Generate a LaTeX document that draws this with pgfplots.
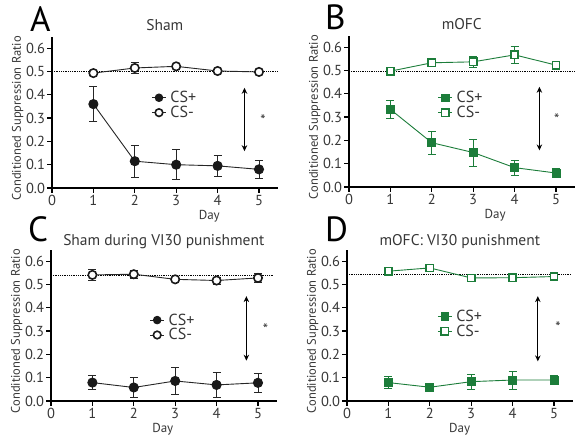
\documentclass[border=0pt]{standalone}
\usepackage{fontspec}
\setmainfont{PT Sans}
\usepackage{pgfplots}
\pgfplotsset{compat=1.18}
\usetikzlibrary{arrows.meta}
\definecolor{grn}{RGB}{28,125,58}
\definecolor{txt}{RGB}{55,55,55}

\pgfplotsset{
 panel/.style={
  scale only axis, width=225.6pt, height=151.5pt,
  xmin=0, xmax=5.45, ymin=0, ymax=0.65,
  axis lines=left, axis line style={-, line width=1.2pt, black},
  xtick={0,1,2,3,4,5}, ytick={0,0.1,0.2,0.3,0.4,0.5,0.6},
  tick align=outside, major tick length=5pt, tick style={line width=1.2pt, black},
  /pgf/number format/assume math mode=true,
  ticklabel style={font=\fontsize{14.5}{15}\selectfont, text=txt},
  xticklabel style={yshift=1.5pt},
  yticklabel style={xshift=1.5pt, /pgf/number format/fixed, /pgf/number format/fixed zerofill, /pgf/number format/precision=1},
  clip=false, anchor=south west,
  legend style={draw=none, fill=none, font=\fontsize{16}{16}\selectfont, anchor=north west, row sep=0pt, text=txt, inner sep=0pt,
    nodes={inner xsep=4pt, inner ysep=1pt}},
  legend cell align=left,
  legend image code/.code={
    \draw[##1] (0pt,0pt) -- (14pt,0pt);
    \draw[##1, /tikz/mark size=3.8pt] plot coordinates {(7pt,0pt)};
  },
 },
 cp/.style={black!85, line width=0.9pt, mark=*, mark size=4.6pt, mark options={solid, fill=black!90, draw=black!90},
   error bars/.cd, y dir=both, y explicit, error bar style={line width=0.8pt}, error mark options={rotate=90, mark size=4pt, line width=0.8pt}},
 cm/.style={black!85, line width=0.9pt, mark=*, mark size=4.2pt, mark options={solid, fill=white, draw=black!90, line width=1.6pt},
   error bars/.cd, y dir=both, y explicit, error bar style={line width=0.8pt}, error mark options={rotate=90, mark size=4pt, line width=0.8pt}},
 gp/.style={grn, line width=0.9pt, mark=square*, mark size=4pt, mark options={solid, fill=grn, draw=grn},
   error bars/.cd, y dir=both, y explicit, error bar style={line width=0.8pt}, error mark options={rotate=90, mark size=4pt, line width=0.8pt}},
 gm/.style={grn, line width=0.9pt, mark=square*, mark size=3.6pt, mark options={solid, fill=white, draw=grn, line width=1.6pt},
   error bars/.cd, y dir=both, y explicit, error bar style={line width=0.8pt}, error mark options={rotate=90, mark size=4pt, line width=0.8pt}},
}

\newcommand{\ylab}{\node[rotate=90, font=\fontsize{12.5}{13}\selectfont, text=txt] at (axis cs:-0.83,0.30) {Conditioned Suppression Ratio};}
\newcommand{\arr}[3]{\draw[{Stealth[length=6pt,width=5.5pt]}-{Stealth[length=6pt,width=5.5pt]}, line width=1.1pt] (axis cs:#1,#2) -- (axis cs:#1,#3);}
\newcommand{\sigmark}[2]{\node[font=\fontsize{15}{15}\selectfont, text=txt] at (axis cs:#1,#2) {*};}

\begin{document}
\begin{tikzpicture}[x=1pt,y=1pt]
\useasboundingbox (0,0) rectangle (583,-438);

% ---------- A ----------
\begin{axis}[panel, at={(52pt,-188pt)}, legend style={at={(axis cs:2.4,0.42)}}]
\addplot[densely dotted, line width=0.8pt, black, forget plot] coordinates {(0,0.5) (5.45,0.5)};
\addplot[cp] table[x=x, y=y, y error=e] {
x y e
1 0.360 0.075
2 0.115 0.068
3 0.100 0.065
4 0.095 0.044
5 0.080 0.040
};
\addplot[cm] table[x=x, y=y, y error=e] {
x y e
1 0.493 0.010
2 0.515 0.025
3 0.522 0.008
4 0.502 0.006
5 0.498 0.008
};
\legend{CS+, CS-}
\arr{4.65}{0.43}{0.158}
\sigmark{5.1}{0.29}
\node[anchor=base, font=\fontsize{15.5}{16}\selectfont, text=txt] at (rel axis cs:0.5,1) [yshift=6pt] {Sham};
\node[font=\fontsize{13}{13}\selectfont, text=txt] at (axis cs:3.8,-0.12) {Day};
\ylab
\end{axis}

% ---------- B ----------
\begin{axis}[panel, at={(349pt,-187pt)}, legend style={at={(axis cs:2.14,0.415)}}]
\addplot[densely dotted, line width=0.8pt, black, forget plot] coordinates {(0,0.497) (5.45,0.497)};
\addplot[gp] table[x=x, y=y, y error=e] {
x y e
1 0.333 0.037
2 0.190 0.049
3 0.148 0.058
4 0.083 0.033
5 0.060 0.018
};
\addplot[gm] table[x=x, y=y, y error=e] {
x y e
1 0.497 0.008
2 0.533 0.010
3 0.537 0.025
4 0.567 0.035
5 0.523 0.010
};
\legend{CS+, CS-}
\arr{4.6}{0.43}{0.157}
\sigmark{5.02}{0.29}
\node[anchor=base, font=\fontsize{15.5}{16}\selectfont, text=txt] at (rel axis cs:0.5,1) [yshift=6pt] {mOFC};
\node[font=\fontsize{13}{13}\selectfont, text=txt] at (axis cs:3.53,-0.12) {Day};
\ylab
\end{axis}

% ---------- C ----------
\begin{axis}[panel, at={(51pt,-401pt)}, legend style={at={(axis cs:2.38,0.38)}}]
\addplot[densely dotted, line width=0.8pt, black, forget plot] coordinates {(0,0.541) (5.38,0.541)};
\addplot[cp] table[x=x, y=y, y error=e] {
x y e
1 0.079 0.030
2 0.058 0.042
3 0.086 0.059
4 0.069 0.055
5 0.078 0.042
};
\addplot[cm] table[x=x, y=y, y error=e] {
x y e
1 0.541 0.022
2 0.544 0.018
3 0.522 0.008
4 0.517 0.015
5 0.528 0.020
};
\legend{CS+, CS-}
\arr{4.72}{0.45}{0.173}
\sigmark{5.18}{0.31}
\node[anchor=base, font=\fontsize{15.5}{16}\selectfont, text=txt] at (rel axis cs:0.5,1) [yshift=4pt] {Sham during VI30 punishment};
\node[font=\fontsize{13}{13}\selectfont, text=txt] at (axis cs:2.7,-0.12) {Day};
\ylab
\end{axis}

% ---------- D ----------
\begin{axis}[panel, at={(347pt,-401pt)}, legend style={at={(axis cs:2.18,0.395)}}]
\addplot[densely dotted, line width=0.8pt, black, forget plot] coordinates {(0,0.545) (5.42,0.545)};
\addplot[gp] table[x=x, y=y, y error=e] {
x y e
1 0.079 0.025
2 0.059 0.006
3 0.083 0.033
4 0.090 0.039
5 0.090 0.020
};
\addplot[gm] table[x=x, y=y, y error=e] {
x y e
1 0.557 0.010
2 0.571 0.010
3 0.528 0.008
4 0.529 0.006
5 0.534 0.008
};
\legend{CS+, CS-}
\arr{4.61}{0.45}{0.17}
\sigmark{5.1}{0.315}
\node[anchor=base, font=\fontsize{15.5}{16}\selectfont, text=txt] at (rel axis cs:0.5,1) [yshift=4pt] {mOFC: VI30 punishment};
\node[font=\fontsize{13}{13}\selectfont, text=txt] at (axis cs:2.72,-0.12) {Day};
\ylab
\end{axis}

% panel letters
\node[anchor=base west, inner sep=0, font=\fontsize{35}{35}\selectfont] at (30,-32) {A};
\node[anchor=base west, inner sep=0, font=\fontsize{35}{35}\selectfont] at (325,-30) {B};
\node[anchor=base west, inner sep=0, font=\fontsize{35}{35}\selectfont] at (28,-242) {C};
\node[anchor=base west, inner sep=0, font=\fontsize{35}{35}\selectfont] at (325,-242) {D};
\end{tikzpicture}
\end{document}
